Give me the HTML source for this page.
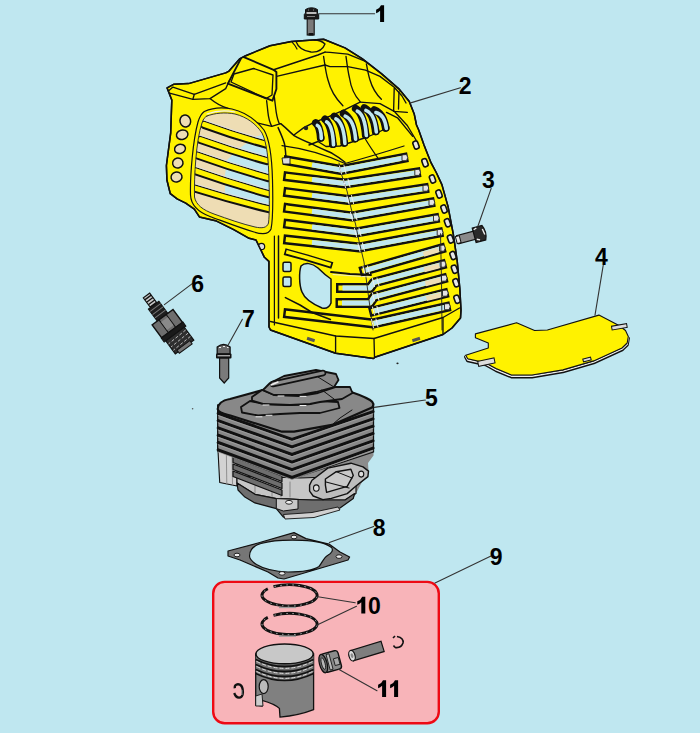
<!DOCTYPE html>
<html><head><meta charset="utf-8"><style>
html,body{margin:0;padding:0;background:#BFE7F0;overflow:hidden;width:700px;height:733px;}
svg{display:block;}
text{font-family:"Liberation Sans",sans-serif;font-weight:bold;font-size:23px;fill:#000;}
</style></head><body>
<svg width="700" height="733" viewBox="0 0 700 733">
<rect width="700" height="733" fill="#BFE7F0"/>
<path d="M167.1,87.9 L173.6,84.3 L188.6,83.6 L225.7,72.9 L228.6,71.4 L240.0,58.6 L245.7,55.7 L270.0,45.7 L291.4,41.4 L323.6,39.3 L345.0,47.9 L362.1,58.6 L381.4,73.6 L398.6,88.6 L409.3,101.4 L414.3,114.3 L416.5,125.0 L418.7,130.0 L424.0,145.0 L431.0,162.7 L436.5,173.0 L441.9,184.6 L448.0,206.4 L453.2,233.7 L457.2,261.0 L459.8,288.3 L461.0,310.0 L460.5,318.0 L452.0,328.0 L443.0,334.5 L375.5,357.0 L373.5,358.5 L335.6,353.3 L270.5,330.0 L269.0,327.0 L268.9,261.4 L264.4,257.3 L256.0,240.0 L249.1,238.3 L233.7,229.7 L216.6,221.1 L199.4,216.9 L194.3,209.1 L185.7,203.1 L177.1,198.9 L170.3,193.7 L166.9,180.0 L166.4,165.5 L170.7,132.8 L171.8,100.0 Z" fill="#FFF200" stroke="#111" stroke-width="1.5" stroke-linejoin="round"/>
<clipPath id="cc"><path d="M167.1,87.9 L173.6,84.3 L188.6,83.6 L225.7,72.9 L228.6,71.4 L240.0,58.6 L245.7,55.7 L270.0,45.7 L291.4,41.4 L323.6,39.3 L345.0,47.9 L362.1,58.6 L381.4,73.6 L398.6,88.6 L409.3,101.4 L414.3,114.3 L416.5,125.0 L418.7,130.0 L424.0,145.0 L431.0,162.7 L436.5,173.0 L441.9,184.6 L448.0,206.4 L453.2,233.7 L457.2,261.0 L459.8,288.3 L461.0,310.0 L460.5,318.0 L452.0,328.0 L443.0,334.5 L375.5,357.0 L373.5,358.5 L335.6,353.3 L270.5,330.0 L269.0,327.0 L268.9,261.4 L264.4,257.3 L256.0,240.0 L249.1,238.3 L233.7,229.7 L216.6,221.1 L199.4,216.9 L194.3,209.1 L185.7,203.1 L177.1,198.9 L170.3,193.7 L166.9,180.0 L166.4,165.5 L170.7,132.8 L171.8,100.0 Z"/></clipPath>
<g clip-path="url(#cc)">
<path d="M167.9,91.4 L172.9,87.1 L194.3,94.3 L225.7,82.9" fill="none" stroke="#111" stroke-width="1.35" stroke-linejoin="round" stroke-linecap="round" />
<path d="M168.6,92.9 L192.9,99.3 L210.0,98.6 L225.7,88.6 L229.3,80.7" fill="none" stroke="#111" stroke-width="1.35" stroke-linejoin="round" stroke-linecap="round" />
<path d="M192.9,99.3 L194.3,94.3" fill="none" stroke="#111" stroke-width="1.35" stroke-linejoin="round" stroke-linecap="round" />
<path d="M210,98.6 C214,102 220,106 228,108.5" fill="none" stroke="#111" stroke-width="1.35" stroke-linejoin="round" stroke-linecap="round" />
<path d="M242.1,56.4 L273.6,69.8 L276.4,72.0 L276.4,89.0 L272.4,100.7 L227.9,83.6 L242.1,56.4" fill="none" stroke="#111" stroke-width="1.89" stroke-linejoin="round" stroke-linecap="round" />
<path d="M273.6,69.8 L317.9,55.0 L325.0,52.1" fill="none" stroke="#111" stroke-width="1.49" stroke-linejoin="round" stroke-linecap="round" />
<path d="M253.6,68.5 L273.0,75.0 L272.0,95.0 L266.0,98.6 L231.0,82.0 L234.0,74.0 L253.6,68.5" fill="none" stroke="#111" stroke-width="1.35" stroke-linejoin="round" stroke-linecap="round" />
<path d="M276.6,76.4 L325.0,65.0" fill="none" stroke="#111" stroke-width="1.35" stroke-linejoin="round" stroke-linecap="round" />
<path d="M296,41.5 C298,47 303,51 311,52 C318,52.5 323,49 325,44 C322,41 318,40 314,40" fill="none" stroke="#111" stroke-width="1.35" stroke-linejoin="round" stroke-linecap="round" />
<path d="M292.1,42.1 C295,45 296,47 297,49" fill="none" stroke="#111" stroke-width="1.22" stroke-linejoin="round" stroke-linecap="round" />
<path d="M325.0,52.1 L330.0,52.4 L347.7,54.2 L365.5,61.3 L380.0,69.8 L393.0,79.6 L405.0,92.7 L411.6,103.6" fill="none" stroke="#111" stroke-width="1.35" stroke-linejoin="round" stroke-linecap="round" />
<path d="M325.0,65.0 L330.0,66.6 L347.7,66.6 L365.5,70.1 L380.0,76.4 L394.2,87.3 L402.0,96.0 L406.0,103.0" fill="none" stroke="#111" stroke-width="1.35" stroke-linejoin="round" stroke-linecap="round" />
<path d="M323.6,56.4 C325,66 326,74 328,80 C330,88 335,98 342.9,105.7" fill="none" stroke="#111" stroke-width="1.35" stroke-linejoin="round" stroke-linecap="round" />
<path d="M346,56.4 C347,64 348,72 349.5,78 C351,88 354,95 360,101.4" fill="none" stroke="#111" stroke-width="1.35" stroke-linejoin="round" stroke-linecap="round" />
<path d="M366.4,63.9 C367.5,70 368.5,76 370,80 C372,87 376,94 381.4,99.3" fill="none" stroke="#111" stroke-width="1.35" stroke-linejoin="round" stroke-linecap="round" />
<path d="M394.2,88.4 C394,96 393.8,104 393.6,111.3" fill="none" stroke="#111" stroke-width="1.35" stroke-linejoin="round" stroke-linecap="round" />
<path d="M399,91.6 C398.8,97 398.6,104 398.5,109" fill="none" stroke="#111" stroke-width="1.35" stroke-linejoin="round" stroke-linecap="round" />
<path d="M360.1,102.1 L380.0,103.6 L394.2,111.3 L407.3,112.4" fill="none" stroke="#111" stroke-width="1.35" stroke-linejoin="round" stroke-linecap="round" />
<path d="M266.6,100.6 C267,104 267.5,108 267.9,112.1 C268.5,118 270,123 271.7,126.3" fill="none" stroke="#111" stroke-width="1.35" stroke-linejoin="round" stroke-linecap="round" />
<path d="M274.3,96.7 C275,102 275.5,107 276.2,112.1 C277,117 278,121 279.4,123.7" fill="none" stroke="#111" stroke-width="1.35" stroke-linejoin="round" stroke-linecap="round" />
<path d="M255.0,122.4 L271.7,126.3 L280.7,123.7" fill="none" stroke="#111" stroke-width="1.35" stroke-linejoin="round" stroke-linecap="round" />
<path d="M280.7,123.7 C286,128 290,132 293.6,135.3 C300,139 306,141.5 312.8,144.3 C320,148 326,150.5 332.1,153.3 C337,156 341,159 345,162.3" fill="none" stroke="#111" stroke-width="1.49" stroke-linejoin="round" stroke-linecap="round" />
<path d="M278.1,127.6 C281,134 283.5,140 284.6,144.3 C285.5,150 285.8,154 286,158" fill="none" stroke="#111" stroke-width="1.49" stroke-linejoin="round" stroke-linecap="round" />
<path d="M293.6,135.3 L303.8,127.6 L314.1,122.4 L327.0,117.3 L345.0,109.6 L360.1,102.1" fill="none" stroke="#111" stroke-width="1.35" stroke-linejoin="round" stroke-linecap="round" />
<path d="M309.0,145.0 L318.0,141.5 L326.0,146.5 L340.0,146.0 L352.0,142.0 L366.0,137.5 L378.0,132.5 L388.5,127.0" fill="none" stroke="#111" stroke-width="1.35" stroke-linejoin="round" stroke-linecap="round" />
<path d="M386.5,112.4 L397.5,117.8 L412.7,136.4" fill="none" stroke="#111" stroke-width="1.35" stroke-linejoin="round" stroke-linecap="round" />
<path d="M394.2,111.3 L407.3,125.5 L416.0,140.0" fill="none" stroke="#111" stroke-width="1.35" stroke-linejoin="round" stroke-linecap="round" />
<path d="M365.5,139.3 C370,147 375,154 379.6,160.6" fill="none" stroke="#111" stroke-width="1.22" stroke-linejoin="round" stroke-linecap="round" />
<path d="M282,145.6 C300,148 320,152 345,163.5" fill="none" stroke="#111" stroke-width="1.22" stroke-linejoin="round" stroke-linecap="round" />
<path d="M345,163.5 C365,158 385,152 404,146" fill="none" stroke="#111" stroke-width="1.22" stroke-linejoin="round" stroke-linecap="round" />
<path d="M315.7,122.9 Q319.7,125.9 320.7,137.9" fill="none" stroke="#111" stroke-width="7.60" stroke-linejoin="round" stroke-linecap="round" stroke-linecap="butt"/>
<circle cx="320.7" cy="137.9" r="3.8" fill="#111"/>
<path d="M317.3,125.4 Q321.0,126.9 321.3,138.4" fill="none" stroke="#BFE7F0" stroke-width="3.60" stroke-linejoin="round" stroke-linecap="round" stroke-linecap="butt"/>
<path d="M325.0,119.3 Q331.3,124.3 332.9,144.3" fill="none" stroke="#111" stroke-width="7.60" stroke-linejoin="round" stroke-linecap="round" stroke-linecap="butt"/>
<circle cx="332.9" cy="144.3" r="3.8" fill="#111"/>
<path d="M326.6,121.8 Q332.6,125.3 333.5,144.8" fill="none" stroke="#BFE7F0" stroke-width="3.60" stroke-linejoin="round" stroke-linecap="round" stroke-linecap="butt"/>
<path d="M334.3,116.4 Q342.3,121.7 344.3,142.9" fill="none" stroke="#111" stroke-width="7.60" stroke-linejoin="round" stroke-linecap="round" stroke-linecap="butt"/>
<circle cx="344.3" cy="142.9" r="3.8" fill="#111"/>
<path d="M335.9,118.9 Q343.6,122.7 344.9,143.4" fill="none" stroke="#BFE7F0" stroke-width="3.60" stroke-linejoin="round" stroke-linecap="round" stroke-linecap="butt"/>
<path d="M343.6,113.6 Q352.7,118.6 355.0,138.6" fill="none" stroke="#111" stroke-width="7.60" stroke-linejoin="round" stroke-linecap="round" stroke-linecap="butt"/>
<circle cx="355.0" cy="138.6" r="3.8" fill="#111"/>
<path d="M345.2,116.1 Q354.0,119.6 355.6,139.1" fill="none" stroke="#BFE7F0" stroke-width="3.60" stroke-linejoin="round" stroke-linecap="round" stroke-linecap="butt"/>
<path d="M355.7,108.6 Q363.7,113.9 365.7,135.0" fill="none" stroke="#111" stroke-width="7.60" stroke-linejoin="round" stroke-linecap="round" stroke-linecap="butt"/>
<circle cx="365.7" cy="135.0" r="3.8" fill="#111"/>
<path d="M357.3,111.1 Q365.0,114.9 366.3,135.5" fill="none" stroke="#BFE7F0" stroke-width="3.60" stroke-linejoin="round" stroke-linecap="round" stroke-linecap="butt"/>
<path d="M364.3,107.9 Q373.4,112.6 375.7,131.4" fill="none" stroke="#111" stroke-width="7.60" stroke-linejoin="round" stroke-linecap="round" stroke-linecap="butt"/>
<circle cx="375.7" cy="131.4" r="3.8" fill="#111"/>
<path d="M365.9,110.4 Q374.7,113.6 376.3,131.9" fill="none" stroke="#BFE7F0" stroke-width="3.60" stroke-linejoin="round" stroke-linecap="round" stroke-linecap="butt"/>
<path d="M374.3,110.0 Q383.4,113.6 385.7,127.9" fill="none" stroke="#111" stroke-width="7.60" stroke-linejoin="round" stroke-linecap="round" stroke-linecap="butt"/>
<circle cx="385.7" cy="127.9" r="3.8" fill="#111"/>
<path d="M375.9,112.5 Q384.7,114.6 386.3,128.4" fill="none" stroke="#BFE7F0" stroke-width="3.60" stroke-linejoin="round" stroke-linecap="round" stroke-linecap="butt"/>
<circle cx="306" cy="128" r="2.2" fill="#222"/>
<path d="M204.3,111.5 C212,108 222,107 232,109 C245,112 256,120 264,130 C270,140 272,160 272.5,180 C273,200 273,220 271,229 C269,234 262,234.5 254,232 C240,228 225,222 210,216.5 C198,212 191,205 190.5,195 C190,175 193,140 198,122 C199.5,117 201.5,113.5 204.3,111.5 Z" fill="#FFF200" stroke="#111" stroke-width="1.20" stroke-linejoin="round" stroke-linecap="round" />
<clipPath id="lg"><path d="M207,116 C215,113 225,112 235,114 C247,117 256,124 262,133 C267,143 268.5,160 269,180 C269.5,200 269.5,215 268.5,223 C267,228 262,228.5 255,227 C242,224 228,219 214,214 C203,210 196,205 194.5,197 C194,178 196,140 202,123 C203,119 205,117 207,116 Z"/></clipPath>
<g clip-path="url(#lg)">
<path d="M207,116 C215,113 225,112 235,114 C247,117 256,124 262,133 C267,143 268.5,160 269,180 C269.5,200 269.5,215 268.5,223 C267,228 262,228.5 255,227 C242,224 228,219 214,214 C203,210 196,205 194.5,197 C194,178 196,140 202,123 C203,119 205,117 207,116 Z" fill="#EEDDB4"/>
<path d="M255,137 L268,133 L280,133 L280,214 L225,198 L225,175 L227,160 L240,148 Z" fill="#BFE7F0"/>
<path d="M204.0,124.8 Q235.0,136.2 266.0,144.5" fill="none" stroke="#111" stroke-width="8.20" stroke-linejoin="round" stroke-linecap="round" stroke-linecap="butt"/>
<path d="M204.0,124.4 Q235.0,135.8 266.0,144.1" fill="none" stroke="#FFF200" stroke-width="5.00" stroke-linejoin="round" stroke-linecap="round" stroke-linecap="butt"/>
<path d="M204.0,120.1 Q235.0,131.5 266.0,139.8" fill="none" stroke="#E0E0E0" stroke-width="0.90" stroke-linejoin="round" stroke-linecap="round" stroke-linecap="butt"/>
<path d="M200.5,140.0 Q233.8,152.0 267.0,161.0" fill="none" stroke="#111" stroke-width="8.20" stroke-linejoin="round" stroke-linecap="round" stroke-linecap="butt"/>
<path d="M200.5,139.6 Q233.8,151.6 267.0,160.6" fill="none" stroke="#FFF200" stroke-width="5.00" stroke-linejoin="round" stroke-linecap="round" stroke-linecap="butt"/>
<path d="M200.5,135.3 Q233.8,147.3 267.0,156.3" fill="none" stroke="#E0E0E0" stroke-width="0.90" stroke-linejoin="round" stroke-linecap="round" stroke-linecap="butt"/>
<path d="M197.5,155.5 Q232.8,168.2 268.0,178.0" fill="none" stroke="#111" stroke-width="8.20" stroke-linejoin="round" stroke-linecap="round" stroke-linecap="butt"/>
<path d="M197.5,155.1 Q232.8,167.8 268.0,177.6" fill="none" stroke="#FFF200" stroke-width="5.00" stroke-linejoin="round" stroke-linecap="round" stroke-linecap="butt"/>
<path d="M197.5,150.8 Q232.8,163.6 268.0,173.3" fill="none" stroke="#E0E0E0" stroke-width="0.90" stroke-linejoin="round" stroke-linecap="round" stroke-linecap="butt"/>
<path d="M195.0,171.0 Q231.8,184.0 268.5,194.0" fill="none" stroke="#111" stroke-width="8.20" stroke-linejoin="round" stroke-linecap="round" stroke-linecap="butt"/>
<path d="M195.0,170.6 Q231.8,183.6 268.5,193.6" fill="none" stroke="#FFF200" stroke-width="5.00" stroke-linejoin="round" stroke-linecap="round" stroke-linecap="butt"/>
<path d="M195.0,166.3 Q231.8,179.3 268.5,189.3" fill="none" stroke="#E0E0E0" stroke-width="0.90" stroke-linejoin="round" stroke-linecap="round" stroke-linecap="butt"/>
<path d="M193.0,188.0 Q230.8,200.0 268.5,209.0" fill="none" stroke="#111" stroke-width="8.20" stroke-linejoin="round" stroke-linecap="round" stroke-linecap="butt"/>
<path d="M193.0,187.6 Q230.8,199.6 268.5,208.6" fill="none" stroke="#FFF200" stroke-width="5.00" stroke-linejoin="round" stroke-linecap="round" stroke-linecap="butt"/>
<path d="M193.0,183.3 Q230.8,195.3 268.5,204.3" fill="none" stroke="#E0E0E0" stroke-width="0.90" stroke-linejoin="round" stroke-linecap="round" stroke-linecap="butt"/>
</g>
<path d="M207,116 C215,113 225,112 235,114 C247,117 256,124 262,133 C267,143 268.5,160 269,180 C269.5,200 269.5,215 268.5,223 C267,228 262,228.5 255,227 C242,224 228,219 214,214 C203,210 196,205 194.5,197 C194,178 196,140 202,123 C203,119 205,117 207,116 Z" fill="none" stroke="#333" stroke-width="1.00" stroke-linejoin="round" stroke-linecap="round" />
<path d="M207,114 C215,111 225,110 235,112" fill="none" stroke="#EEE" stroke-width="1.20" stroke-linejoin="round" stroke-linecap="round" />
<ellipse cx="185.3" cy="121.0" rx="5.3" ry="6.0" fill="#EEDDB4" stroke="#111" stroke-width="1.5" transform="rotate(-15 185.3 121.0)"/>
<ellipse cx="182.2" cy="134.7" rx="5.8" ry="4.7" fill="#EEDDB4" stroke="#111" stroke-width="1.5" transform="rotate(-15 182.2 134.7)"/>
<ellipse cx="180.0" cy="148.9" rx="5.5" ry="4.6" fill="#EEDDB4" stroke="#111" stroke-width="1.5" transform="rotate(-15 180.0 148.9)"/>
<ellipse cx="177.8" cy="163.0" rx="5.2" ry="5.0" fill="#EEDDB4" stroke="#111" stroke-width="1.5" transform="rotate(-15 177.8 163.0)"/>
<ellipse cx="176.5" cy="177.0" rx="5.5" ry="5.0" fill="#EEDDB4" stroke="#111" stroke-width="1.5" transform="rotate(-15 176.5 177.0)"/>
<circle cx="261.5" cy="246.5" r="3.2" fill="#DDD" stroke="#111" stroke-width="1.2"/>
<path d="M288.3,160.8 L341.0,170.0 L403.1,158.1" fill="none" stroke="#111" stroke-width="10.0" stroke-linejoin="round" stroke-linecap="square"/>
<path d="M288.3,160.8 L341.0,170.0 L403.1,158.1" fill="none" stroke="#FFF200" stroke-width="5.1" stroke-linejoin="round" stroke-linecap="square"/>
<path d="M312.0,164.9 L341.0,170.0 L403.0,158.1" fill="none" stroke="#BFE7F0" stroke-width="4.9" stroke-linejoin="round" stroke-linecap="butt"/>
<path d="M402.0,154.9 L406.5,154.5 Q409.0,157.5 406.5,160.7 L402.0,160.7 Z" fill="#E4E4E4" stroke="#222" stroke-width="0.9"/>
<path d="M288.3,176.6 L345.0,183.5 L415.8,172.7" fill="none" stroke="#111" stroke-width="10.0" stroke-linejoin="round" stroke-linecap="square"/>
<path d="M288.3,176.6 L345.0,183.5 L415.8,172.7" fill="none" stroke="#FFF200" stroke-width="5.1" stroke-linejoin="round" stroke-linecap="square"/>
<path d="M312.0,179.5 L345.0,183.5 L415.8,172.8" fill="none" stroke="#BFE7F0" stroke-width="4.9" stroke-linejoin="round" stroke-linecap="butt"/>
<path d="M414.8,169.7 L419.2,169.2 Q421.8,172.2 419.2,175.4 L414.8,175.4 Z" fill="#E4E4E4" stroke="#222" stroke-width="0.9"/>
<path d="M288.3,192.4 L348.5,200.0 L424.0,188.5" fill="none" stroke="#111" stroke-width="10.0" stroke-linejoin="round" stroke-linecap="square"/>
<path d="M288.3,192.4 L348.5,200.0 L424.0,188.5" fill="none" stroke="#FFF200" stroke-width="5.1" stroke-linejoin="round" stroke-linecap="square"/>
<path d="M312.0,195.4 L348.5,200.0 L424.0,188.6" fill="none" stroke="#BFE7F0" stroke-width="4.9" stroke-linejoin="round" stroke-linecap="butt"/>
<path d="M423.0,185.4 L427.5,185.0 Q430.0,188.0 427.5,191.2 L423.0,191.2 Z" fill="#E4E4E4" stroke="#222" stroke-width="0.9"/>
<path d="M288.3,208.2 L352.0,216.5 L430.0,202.8" fill="none" stroke="#111" stroke-width="10.0" stroke-linejoin="round" stroke-linecap="square"/>
<path d="M288.3,208.2 L352.0,216.5 L430.0,202.8" fill="none" stroke="#FFF200" stroke-width="5.1" stroke-linejoin="round" stroke-linecap="square"/>
<path d="M312.0,211.3 L352.0,216.5 L430.0,202.8" fill="none" stroke="#BFE7F0" stroke-width="4.9" stroke-linejoin="round" stroke-linecap="butt"/>
<path d="M429.0,199.7 L433.5,199.2 Q436.0,202.2 433.5,205.4 L429.0,205.4 Z" fill="#E4E4E4" stroke="#222" stroke-width="0.9"/>
<path d="M288.3,224.0 L356.0,232.5 L434.5,218.5" fill="none" stroke="#111" stroke-width="10.0" stroke-linejoin="round" stroke-linecap="square"/>
<path d="M288.3,224.0 L356.0,232.5 L434.5,218.5" fill="none" stroke="#FFF200" stroke-width="5.1" stroke-linejoin="round" stroke-linecap="square"/>
<path d="M312.0,227.0 L356.0,232.5 L434.5,218.6" fill="none" stroke="#BFE7F0" stroke-width="4.9" stroke-linejoin="round" stroke-linecap="butt"/>
<path d="M433.5,215.4 L438.0,215.0 Q440.5,218.0 438.0,221.2 L433.5,221.2 Z" fill="#E4E4E4" stroke="#222" stroke-width="0.9"/>
<path d="M288.3,239.8 L359.5,247.5 L438.3,232.8" fill="none" stroke="#111" stroke-width="10.0" stroke-linejoin="round" stroke-linecap="square"/>
<path d="M288.3,239.8 L359.5,247.5 L438.3,232.8" fill="none" stroke="#FFF200" stroke-width="5.1" stroke-linejoin="round" stroke-linecap="square"/>
<path d="M312.0,242.4 L359.5,247.5 L438.2,232.8" fill="none" stroke="#BFE7F0" stroke-width="4.9" stroke-linejoin="round" stroke-linecap="butt"/>
<path d="M437.2,229.7 L441.8,229.2 Q444.2,232.2 441.8,235.4 L437.2,235.4 Z" fill="#E4E4E4" stroke="#222" stroke-width="0.9"/>
<path d="M364.5,270.5 L440.6,248.8" fill="none" stroke="#111" stroke-width="10.0" stroke-linejoin="round" stroke-linecap="square"/>
<path d="M364.5,270.5 L440.6,248.8" fill="none" stroke="#FFF200" stroke-width="5.1" stroke-linejoin="round" stroke-linecap="square"/>
<path d="M365.0,270.5 L440.5,248.6" fill="none" stroke="#BFE7F0" stroke-width="4.9" stroke-linejoin="round" stroke-linecap="butt"/>
<path d="M439.5,245.4 L444.0,245.0 Q446.5,248.0 444.0,251.2 L439.5,251.2 Z" fill="#E4E4E4" stroke="#222" stroke-width="0.9"/>
<path d="M341.0,288.0 L370.0,288.0 L374.0,282.5 L441.3,264.8" fill="none" stroke="#111" stroke-width="10.0" stroke-linejoin="round" stroke-linecap="square"/>
<path d="M341.0,288.0 L370.0,288.0 L374.0,282.5 L441.3,264.8" fill="none" stroke="#FFF200" stroke-width="5.1" stroke-linejoin="round" stroke-linecap="square"/>
<path d="M342.5,288.0 L370.0,288.0 L374.0,282.5 L441.2,264.6" fill="none" stroke="#BFE7F0" stroke-width="4.9" stroke-linejoin="round" stroke-linecap="butt"/>
<path d="M440.2,261.4 L444.7,261.0 Q447.2,264.0 444.7,267.2 L440.2,267.2 Z" fill="#E4E4E4" stroke="#222" stroke-width="0.9"/>
<path d="M340.5,303.0 L370.0,303.0 L374.0,297.0 L442.5,278.8" fill="none" stroke="#111" stroke-width="10.0" stroke-linejoin="round" stroke-linecap="square"/>
<path d="M340.5,303.0 L370.0,303.0 L374.0,297.0 L442.5,278.8" fill="none" stroke="#FFF200" stroke-width="5.1" stroke-linejoin="round" stroke-linecap="square"/>
<path d="M342.0,303.0 L370.0,303.0 L374.0,297.0 L442.4,278.6" fill="none" stroke="#BFE7F0" stroke-width="4.9" stroke-linejoin="round" stroke-linecap="butt"/>
<path d="M441.4,275.4 L445.9,275.0 Q448.4,278.0 445.9,281.2 L441.4,281.2 Z" fill="#E4E4E4" stroke="#222" stroke-width="0.9"/>
<path d="M374.0,311.0 L443.6,293.7" fill="none" stroke="#111" stroke-width="10.0" stroke-linejoin="round" stroke-linecap="square"/>
<path d="M374.0,311.0 L443.6,293.7" fill="none" stroke="#FFF200" stroke-width="5.1" stroke-linejoin="round" stroke-linecap="square"/>
<path d="M374.5,311.0 L443.5,293.6" fill="none" stroke="#BFE7F0" stroke-width="4.9" stroke-linejoin="round" stroke-linecap="butt"/>
<path d="M442.5,290.4 L447.0,290.0 Q449.5,293.0 447.0,296.2 L442.5,296.2 Z" fill="#E4E4E4" stroke="#222" stroke-width="0.9"/>
<path d="M288.3,313.5 L373.0,323.5 L445.6,307.2" fill="none" stroke="#111" stroke-width="10.0" stroke-linejoin="round" stroke-linecap="square"/>
<path d="M288.3,313.5 L373.0,323.5 L445.6,307.2" fill="none" stroke="#FFF200" stroke-width="5.1" stroke-linejoin="round" stroke-linecap="square"/>
<path d="M373.5,323.5 L445.5,307.1" fill="none" stroke="#BFE7F0" stroke-width="4.9" stroke-linejoin="round" stroke-linecap="butt"/>
<path d="M444.5,303.9 L449.0,303.5 Q451.5,306.5 449.0,309.7 L444.5,309.7 Z" fill="#E4E4E4" stroke="#222" stroke-width="0.9"/>
<path d="M423.5,254.3 L438.5,250.0" stroke="#EEDDB4" stroke-width="4.9"/>
<path d="M424.2,269.9 L439.2,265.9" stroke="#EEDDB4" stroke-width="4.9"/>
<path d="M425.4,283.9 L440.4,279.9" stroke="#EEDDB4" stroke-width="4.9"/>
<path d="M426.5,298.6 L441.5,294.8" stroke="#EEDDB4" stroke-width="4.9"/>
<path d="M339.0,163.0 L341.0,173.0 L347.0,191.0 L351.0,208.0 L355.5,224.0 L359.0,241.0 L364.0,262.0 L367.0,285.0 L369.0,300.0 L373.0,330.0" fill="none" stroke="#222" stroke-width="0.90" stroke-linejoin="round" stroke-linecap="round" />
<path d="M339.5,166.0 L341.5,174.0" fill="none" stroke="#EEE" stroke-width="1.00" stroke-linejoin="round" stroke-linecap="round" />
<path d="M344.0,165.5 L346.0,173.5" fill="none" stroke="#EEE" stroke-width="1.00" stroke-linejoin="round" stroke-linecap="round" />
<path d="M343.5,179.5 L345.5,187.5" fill="none" stroke="#EEE" stroke-width="1.00" stroke-linejoin="round" stroke-linecap="round" />
<path d="M348.0,179.0 L350.0,187.0" fill="none" stroke="#EEE" stroke-width="1.00" stroke-linejoin="round" stroke-linecap="round" />
<path d="M347.0,196.0 L349.0,204.0" fill="none" stroke="#EEE" stroke-width="1.00" stroke-linejoin="round" stroke-linecap="round" />
<path d="M351.5,195.5 L353.5,203.5" fill="none" stroke="#EEE" stroke-width="1.00" stroke-linejoin="round" stroke-linecap="round" />
<path d="M350.5,212.5 L352.5,220.5" fill="none" stroke="#EEE" stroke-width="1.00" stroke-linejoin="round" stroke-linecap="round" />
<path d="M355.0,212.0 L357.0,220.0" fill="none" stroke="#EEE" stroke-width="1.00" stroke-linejoin="round" stroke-linecap="round" />
<path d="M354.5,228.5 L356.5,236.5" fill="none" stroke="#EEE" stroke-width="1.00" stroke-linejoin="round" stroke-linecap="round" />
<path d="M359.0,228.0 L361.0,236.0" fill="none" stroke="#EEE" stroke-width="1.00" stroke-linejoin="round" stroke-linecap="round" />
<path d="M358.0,243.5 L360.0,251.5" fill="none" stroke="#EEE" stroke-width="1.00" stroke-linejoin="round" stroke-linecap="round" />
<path d="M362.5,243.0 L364.5,251.0" fill="none" stroke="#EEE" stroke-width="1.00" stroke-linejoin="round" stroke-linecap="round" />
<path d="M363.0,266.5 L365.0,274.5" fill="none" stroke="#EEE" stroke-width="1.00" stroke-linejoin="round" stroke-linecap="round" />
<path d="M367.5,266.0 L369.5,274.0" fill="none" stroke="#EEE" stroke-width="1.00" stroke-linejoin="round" stroke-linecap="round" />
<path d="M372.5,278.5 L374.5,286.5" fill="none" stroke="#EEE" stroke-width="1.00" stroke-linejoin="round" stroke-linecap="round" />
<path d="M377.0,278.0 L379.0,286.0" fill="none" stroke="#EEE" stroke-width="1.00" stroke-linejoin="round" stroke-linecap="round" />
<path d="M372.5,293.0 L374.5,301.0" fill="none" stroke="#EEE" stroke-width="1.00" stroke-linejoin="round" stroke-linecap="round" />
<path d="M377.0,292.5 L379.0,300.5" fill="none" stroke="#EEE" stroke-width="1.00" stroke-linejoin="round" stroke-linecap="round" />
<path d="M372.5,307.0 L374.5,315.0" fill="none" stroke="#EEE" stroke-width="1.00" stroke-linejoin="round" stroke-linecap="round" />
<path d="M377.0,306.5 L379.0,314.5" fill="none" stroke="#EEE" stroke-width="1.00" stroke-linejoin="round" stroke-linecap="round" />
<path d="M371.5,319.5 L373.5,327.5" fill="none" stroke="#EEE" stroke-width="1.00" stroke-linejoin="round" stroke-linecap="round" />
<path d="M376.0,319.0 L378.0,327.0" fill="none" stroke="#EEE" stroke-width="1.00" stroke-linejoin="round" stroke-linecap="round" />
<path d="M440.5,233.7 L441.5,280.0 L442.0,330.0" fill="none" stroke="#222" stroke-width="0.90" stroke-linejoin="round" stroke-linecap="round" />
<path d="M282,158 L290,157.5 L290,164 L283,164 Z" fill="#DDD" stroke="#111" stroke-width="0.9"/>
<path d="M331.0,272.0 L350.0,274.0 L371.0,275.0" fill="none" stroke="#111" stroke-width="1.89" stroke-linejoin="round" stroke-linecap="round" />
<path d="M333.0,274.5 L370.0,277.0" fill="none" stroke="#EEE" stroke-width="0.80" stroke-linejoin="round" stroke-linecap="round" />
<path d="M278.5,236.0 L278.5,318.0" fill="none" stroke="#111" stroke-width="1.49" stroke-linejoin="round" stroke-linecap="round" />
<path d="M274.4,236.0 L274.4,325.0" fill="none" stroke="#111" stroke-width="1.22" stroke-linejoin="round" stroke-linecap="round" />
<rect x="283" y="262.2" width="8" height="9.400000000000034" rx="1.5" fill="#BFE7F0" stroke="#111" stroke-width="1.5"/>
<rect x="283" y="277.1" width="8" height="9.5" rx="1.5" fill="#BFE7F0" stroke="#111" stroke-width="1.5"/>
<path d="M301,266 C305,262 312,263 318,268 C322,272 328,277 331,279 L331,303 C329,308 326,309 322,308 C315,305 305,300 302,292 C299,285 299,272 301,266 Z" fill="#BFE7F0" stroke="#111" stroke-width="1.50" stroke-linejoin="round" stroke-linecap="round" />
<path d="M288,252.5 L306,257.5 L329,264.5" fill="none" stroke="#111" stroke-width="7" stroke-linecap="square" stroke-linejoin="round"/>
<path d="M288,252.3 L306,257.3 L329,264.3" fill="none" stroke="#FFF200" stroke-width="3.6" stroke-linecap="square" stroke-linejoin="round"/>
<path d="M285.4,297.6 L300.0,305.0 L312.1,312.5 L330.4,319.5" fill="none" stroke="#111" stroke-width="1.60" stroke-linejoin="round" stroke-linecap="round" />
<path d="M270.5,321.5 L335.6,336.0 L374.0,338.5 L443.0,317.5 L459.5,308.0" fill="none" stroke="#111" stroke-width="1.35" stroke-linejoin="round" stroke-linecap="round" />
<path d="M335.6,336.0 L335.6,353.3" fill="none" stroke="#111" stroke-width="1.35" stroke-linejoin="round" stroke-linecap="round" />
<path d="M374.0,338.5 L374.5,357.5" fill="none" stroke="#111" stroke-width="1.35" stroke-linejoin="round" stroke-linecap="round" />
<path d="M443.0,317.5 L443.0,334.5" fill="none" stroke="#111" stroke-width="1.35" stroke-linejoin="round" stroke-linecap="round" />
<rect x="307" y="338" width="8" height="3" fill="#555" transform="rotate(18 311 339)"/>
<rect x="412" y="338" width="8" height="3" fill="#555" transform="rotate(-18 416 339)"/>
<rect x="413.5" y="141.0" width="5" height="8" rx="2" fill="#E8E8E8" stroke="#111" stroke-width="1.6" transform="rotate(-20 416.0 145.0)"/>
<rect x="422.5" y="158.7" width="5" height="8" rx="2" fill="#E8E8E8" stroke="#111" stroke-width="1.6" transform="rotate(-20 425.0 162.7)"/>
<rect x="430.0" y="175.0" width="5" height="8" rx="2" fill="#E8E8E8" stroke="#111" stroke-width="1.6" transform="rotate(-20 432.5 179.0)"/>
<rect x="436.5" y="190.0" width="5" height="8" rx="2" fill="#E8E8E8" stroke="#111" stroke-width="1.6" transform="rotate(-20 439.0 194.0)"/>
<rect x="441.5" y="205.0" width="5" height="8" rx="2" fill="#E8E8E8" stroke="#111" stroke-width="1.6" transform="rotate(-20 444.0 209.0)"/>
<rect x="445.0" y="218.8" width="5" height="8" rx="2" fill="#E8E8E8" stroke="#111" stroke-width="1.6" transform="rotate(-20 447.5 222.8)"/>
<rect x="448.0" y="235.0" width="5" height="8" rx="2" fill="#E8E8E8" stroke="#111" stroke-width="1.6" transform="rotate(-20 450.5 239.0)"/>
<rect x="450.5" y="251.5" width="5" height="8" rx="2" fill="#E8E8E8" stroke="#111" stroke-width="1.6" transform="rotate(-20 453.0 255.5)"/>
<rect x="452.0" y="265.2" width="5" height="8" rx="2" fill="#E8E8E8" stroke="#111" stroke-width="1.6" transform="rotate(-20 454.5 269.2)"/>
<rect x="453.5" y="278.8" width="5" height="8" rx="2" fill="#E8E8E8" stroke="#111" stroke-width="1.6" transform="rotate(-20 456.0 282.8)"/>
<rect x="454.5" y="295.2" width="5" height="8" rx="2" fill="#E8E8E8" stroke="#111" stroke-width="1.6" transform="rotate(-20 457.0 299.2)"/>
</g>
<path d="M167.1,87.9 L173.6,84.3 L188.6,83.6 L225.7,72.9 L228.6,71.4 L240.0,58.6 L245.7,55.7 L270.0,45.7 L291.4,41.4 L323.6,39.3 L345.0,47.9 L362.1,58.6 L381.4,73.6 L398.6,88.6 L409.3,101.4 L414.3,114.3 L416.5,125.0 L418.7,130.0 L424.0,145.0 L431.0,162.7 L436.5,173.0 L441.9,184.6 L448.0,206.4 L453.2,233.7 L457.2,261.0 L459.8,288.3 L461.0,310.0 L460.5,318.0 L452.0,328.0 L443.0,334.5 L375.5,357.0 L373.5,358.5 L335.6,353.3 L270.5,330.0 L269.0,327.0 L268.9,261.4 L264.4,257.3 L256.0,240.0 L249.1,238.3 L233.7,229.7 L216.6,221.1 L199.4,216.9 L194.3,209.1 L185.7,203.1 L177.1,198.9 L170.3,193.7 L166.9,180.0 L166.4,165.5 L170.7,132.8 L171.8,100.0 Z" fill="none" stroke="#111" stroke-width="1.5" stroke-linejoin="round"/>
<path d="M465.7,357.0 L467.7,360.6 L485.7,364.7 L496.0,370.4 L511.4,376.8 L532.0,376.8 L562.9,371.7 L593.7,362.7 L622.0,349.8 L627.2,344.8 L628.3,338.3" fill="none" stroke="#111" stroke-width="3.20" stroke-linejoin="round" stroke-linecap="round" />
<path d="M465.7,356.4 L467.7,360.0 L485.7,364.1 L496.0,369.8 L511.4,376.2 L532.0,376.2 L562.9,371.1 L593.7,362.1 L622.0,349.2 L627.2,344.2 L628.3,337.7" fill="none" stroke="#EEE" stroke-width="1.40" stroke-linejoin="round" stroke-linecap="round" />
<path d="M475.4,333.9 L516.6,322.8 L534.6,330.5 L547.4,330.0 L598.9,315.1 L619.0,325.5 L625.5,330.5 L628.3,336.5 L627.2,343.0 L622.0,348.0 L593.7,360.9 L562.9,369.9 L532.0,375.0 L511.4,375.0 L496.0,368.6 L485.7,362.9 L467.7,358.8 L465.7,355.2 L488.3,348.0 L488.3,342.9 L475.4,337.7 Z" fill="#FFF200" stroke="#111" stroke-width="1.1" stroke-linejoin="round"/>
<rect x="611.7" y="324.9" width="15.3" height="3.8" fill="#DDD" stroke="#111" stroke-width="1" transform="rotate(-10 619.4 326.8)"/>
<rect x="478.0" y="359.6" width="16.7" height="5.1" fill="#DDD" stroke="#111" stroke-width="1" transform="rotate(-12 486.4 362.1)"/>
<rect x="583.0" y="358.0" width="8.0" height="3.0" fill="#DDD" stroke="#111" stroke-width="1" transform="rotate(-15 587.0 359.5)"/>
<rect x="307.2" y="18" width="7" height="17" fill="#7A7A7A" stroke="#111" stroke-width="1.1"/>
<rect x="308.5" y="33" width="5" height="2.6" fill="#111"/>
<path d="M304.3,19 L304.3,14.5 L305.5,13 L305.5,9.5 Q311.5,6 317.5,9.5 L317.5,13 L318.7,14.5 L318.7,19 Z" fill="#1A1A1A" stroke="#111" stroke-width="1"/>
<path d="M306.5,13 L316.5,13" stroke="#F2F2F2" stroke-width="1.5"/>
<path d="M307,16.5 L315,16.5" stroke="#999" stroke-width="0.8"/>
<path d="M308,10 L309,10 M313,10 L314,10" stroke="#AAA" stroke-width="0.8"/>
<g transform="translate(479,234) rotate(-15)">
<rect x="-22" y="-4.2" width="18" height="8.4" fill="#8A8A8A" stroke="#111" stroke-width="1.3"/>
<rect x="-23.5" y="-3.6" width="4" height="7.2" fill="#E8E8E8" stroke="#111" stroke-width="1"/>
<path d="M-5,-7.5 L5,-7.5 Q8.5,0 5,7.5 L-5,7.5 Z" fill="#2A2A2A" stroke="#111" stroke-width="1.2"/>
<path d="M-4,-5.5 L-1,-6.5 M-3.5,4.5 L-0.5,6 M4.5,-4 L5.5,2" stroke="#F0F0F0" stroke-width="1.4"/>
</g>
<path d="M219.6,358 L228.7,358 L228.7,378 L224.2,383 L219.6,378 Z" fill="#7A7A7A" stroke="#111" stroke-width="1.2"/>
<path d="M217.2,354 L217.2,347 Q223.6,342 230.1,347 L230.1,354 Z" fill="#6A6A6A" stroke="#111" stroke-width="1.3"/>
<path d="M219,347.5 L221,347.5 M223,346.5 L225,346.5 M227,347.5 L228.5,347.5" stroke="#EEE" stroke-width="1.1"/>
<rect x="216" y="353.5" width="15.5" height="5" rx="1" fill="#111"/>
<line x1="217.5" y1="355.8" x2="230" y2="355.8" stroke="#E8E8E8" stroke-width="1"/>
<g transform="translate(146.5,295.5) rotate(53.5)">
<rect x="0" y="-4" width="13" height="8" fill="#C8C8C8" stroke="#111" stroke-width="1.1"/>
<line x1="2.5" y1="-4" x2="2.5" y2="4" stroke="#111" stroke-width="1.3"/>
<line x1="5.5" y1="-4" x2="5.5" y2="4" stroke="#111" stroke-width="1.3"/>
<line x1="8.5" y1="-4" x2="8.5" y2="4" stroke="#111" stroke-width="1.3"/>
<line x1="11.5" y1="-4" x2="11.5" y2="4" stroke="#111" stroke-width="1.3"/>
<rect x="12" y="-6.5" width="16" height="13" fill="#1E1E1E" stroke="#111" stroke-width="1.1"/>
<line x1="15" y1="-6.5" x2="15" y2="6.5" stroke="#777" stroke-width="1"/>
<line x1="19" y1="-6.5" x2="19" y2="6.5" stroke="#777" stroke-width="1"/>
<line x1="23" y1="-6.5" x2="23" y2="6.5" stroke="#777" stroke-width="1"/>
<rect x="27" y="-13" width="16" height="26" fill="#6E6E6E" stroke="#111" stroke-width="1.4"/>
<line x1="27" y1="-4.5" x2="43" y2="-4.5" stroke="#111" stroke-width="1.1"/><line x1="27" y1="4.5" x2="43" y2="4.5" stroke="#111" stroke-width="1.1"/>
<rect x="30" y="-4" width="10" height="8" fill="#8A8A8A"/>
<rect x="43" y="-13.5" width="5" height="27" fill="#1A1A1A" stroke="#111" stroke-width="1"/>
<rect x="48" y="-11.5" width="16" height="23" fill="#2E2E2E" stroke="#111" stroke-width="1.2"/>
<line x1="51" y1="-11" x2="52" y2="11" stroke="#BBB" stroke-width="0.9" stroke-dasharray="3 2"/>
<line x1="55" y1="-11" x2="56" y2="11" stroke="#BBB" stroke-width="0.9" stroke-dasharray="3 2"/>
<line x1="59" y1="-11" x2="60" y2="11" stroke="#BBB" stroke-width="0.9" stroke-dasharray="3 2"/>
<rect x="62" y="-8" width="4" height="16" fill="#777" stroke="#111" stroke-width="1"/>
</g>
<path d="M217.7,405.0 L217.7,447.0 L219.7,482.5 L237.0,486.0 L244.9,497.1 L254.9,502.9 L276.3,508.6 L283.4,517.1 L312.0,514.0 L340.0,508.0 L353.3,498.4 L356.0,493.6 L362.0,482.0 L368.5,471.0 L368.0,463.0 L373.5,455.5 L373.5,404.0 Z" fill="#8C8C8C" stroke="#111" stroke-width="0" stroke-linejoin="round"/>
<path d="M217.7,445.0 L237.0,452.0 L237.0,486.0 L219.7,482.5 Z" fill="#D2D2D2" stroke="#111" stroke-width="1.1" stroke-linejoin="round"/>
<path d="M226.3,449.0 L226.8,484.0" fill="none" stroke="#888" stroke-width="0.90" stroke-linejoin="round" stroke-linecap="round" />
<path d="M232.0,450.0 L232.5,485.0" fill="none" stroke="#888" stroke-width="0.90" stroke-linejoin="round" stroke-linecap="round" />
<path d="M237.0,476.0 L300.0,478.0 L356.0,476.0 L356.0,493.6 L345.0,500.0 L312.0,500.0 L276.3,498.6 L254.9,494.3 L237.0,483.0 Z" fill="#C6C6C6" stroke="#111" stroke-width="1.1" stroke-linejoin="round"/>
<path d="M255.0,482.0 L255.0,497.0" fill="none" stroke="#777" stroke-width="0.80" stroke-linejoin="round" stroke-linecap="round" />
<path d="M272.0,482.0 L272.0,497.0" fill="none" stroke="#777" stroke-width="0.80" stroke-linejoin="round" stroke-linecap="round" />
<path d="M281.0,482.0 L281.0,497.0" fill="none" stroke="#777" stroke-width="0.80" stroke-linejoin="round" stroke-linecap="round" />
<path d="M290.0,482.0 L290.0,497.0" fill="none" stroke="#777" stroke-width="0.80" stroke-linejoin="round" stroke-linecap="round" />
<path d="M237.0,483.0 L254.9,494.3 L276.3,498.6 L312.0,500.0 L345.0,500.0 L354.5,493.6 L353.3,498.4 L340.0,508.0 L312.0,514.0 L283.4,517.1 L276.3,508.6 L254.9,502.9 L244.9,497.1 L238.0,490.0 Z" fill="#6E6E6E" stroke="#111" stroke-width="1.2" stroke-linejoin="round"/>
<path d="M276.3,498.6 L298.0,499.5 L298.0,509.0 L283.4,511.0 L276.3,508.6 Z" fill="#C8C8C8" stroke="#111" stroke-width="1" stroke-linejoin="round"/>
<ellipse cx="289" cy="502.3" rx="3.4" ry="1.9" fill="#EEE" stroke="#111" stroke-width="0.9"/>
<path d="M283.4,514.5 L312.0,512.5 L338.0,507.0 L340.0,510.0 L314.0,517.5 L285.0,519.0 Z" fill="#D0D0D0" stroke="#111" stroke-width="0.9" stroke-linejoin="round"/>
<path d="M233.0,457.0 L282.0,476.0 L282.0,481.5 L233.0,462.5 Z" fill="#6E6E6E" stroke="#111" stroke-width="1.2" stroke-linejoin="round"/>
<path d="M233.0,464.0 L282.0,483.0 L282.0,488.5 L233.0,469.5 Z" fill="#6E6E6E" stroke="#111" stroke-width="1.2" stroke-linejoin="round"/>
<path d="M233.0,471.0 L282.0,490.0 L282.0,495.5 L233.0,476.5 Z" fill="#6E6E6E" stroke="#111" stroke-width="1.2" stroke-linejoin="round"/>
<path d="M217.7,405.0 L217.7,451.0 L292.0,479.0 L373.5,452.0 L373.5,404.0 L300.0,385.0 Z" fill="#888888" stroke="#111" stroke-width="1.3" stroke-linejoin="round"/>
<path d="M218.2,413.3 L232.0,418.3 L292.0,439.3 L373.0,411.6" fill="none" stroke="#111" stroke-width="3.00" stroke-linejoin="round" stroke-linecap="round" />
<path d="M218.2,415.5 L232.0,420.5 L292.0,441.5 L373.0,413.8" fill="none" stroke="#A8A8A8" stroke-width="0.70" stroke-linejoin="round" stroke-linecap="round" />
<path d="M218.2,420.6 L232.0,425.6 L292.0,446.9 L373.0,418.9" fill="none" stroke="#111" stroke-width="3.00" stroke-linejoin="round" stroke-linecap="round" />
<path d="M218.2,422.8 L232.0,427.8 L292.0,449.1 L373.0,421.1" fill="none" stroke="#A8A8A8" stroke-width="0.70" stroke-linejoin="round" stroke-linecap="round" />
<path d="M218.2,427.9 L232.0,432.9 L292.0,454.5 L373.0,426.2" fill="none" stroke="#111" stroke-width="3.00" stroke-linejoin="round" stroke-linecap="round" />
<path d="M218.2,430.1 L232.0,435.1 L292.0,456.7 L373.0,428.4" fill="none" stroke="#A8A8A8" stroke-width="0.70" stroke-linejoin="round" stroke-linecap="round" />
<path d="M218.2,435.2 L232.0,440.2 L292.0,462.1 L373.0,433.5" fill="none" stroke="#111" stroke-width="3.00" stroke-linejoin="round" stroke-linecap="round" />
<path d="M218.2,437.4 L232.0,442.4 L292.0,464.3 L373.0,435.7" fill="none" stroke="#A8A8A8" stroke-width="0.70" stroke-linejoin="round" stroke-linecap="round" />
<path d="M218.2,442.5 L232.0,447.5 L292.0,469.7 L373.0,440.8" fill="none" stroke="#111" stroke-width="3.00" stroke-linejoin="round" stroke-linecap="round" />
<path d="M218.2,444.7 L232.0,449.7 L292.0,471.9 L373.0,443.0" fill="none" stroke="#A8A8A8" stroke-width="0.70" stroke-linejoin="round" stroke-linecap="round" />
<path d="M218.2,449.8 L232.0,454.8 L292.0,477.3 L373.0,448.1" fill="none" stroke="#111" stroke-width="3.00" stroke-linejoin="round" stroke-linecap="round" />
<path d="M218.2,452.0 L232.0,457.0 L292.0,479.5 L373.0,450.3" fill="none" stroke="#A8A8A8" stroke-width="0.70" stroke-linejoin="round" stroke-linecap="round" />
<path d="M217.7,409 C218,403 222,400.5 230,399 L300,380 C330,384 360,394 370,400 C374,402.5 374,405 372,407.5 L332,424.9 L294,431.7 L282,431.7 L232,416 C225,414 218,413 217.7,409 Z" fill="#888888" stroke="#111" stroke-width="2.20" stroke-linejoin="round" stroke-linecap="round" />
<path d="M332.0,424.9 L340.0,418.0 L352.0,410.0" fill="none" stroke="#111" stroke-width="1.00" stroke-linejoin="round" stroke-linecap="round" />
<path d="M241.0,407.0 L250.0,401.0 L264.0,404.0 L290.0,405.0 L310.0,404.0 L320.0,401.0 L338.0,402.0 L339.5,408.0 L320.0,413.0 L300.0,413.0 L280.0,414.0 L258.0,415.5 L242.0,412.5 Z" fill="#888888" stroke="#111" stroke-width="1.8" stroke-linejoin="round"/>
<path d="M252.0,397.0 L262.0,390.0 L274.0,395.0 L300.0,396.0 L318.0,393.0 L336.0,387.0 L350.0,387.0 L352.5,393.0 L342.0,399.0 L320.0,402.0 L310.0,404.0 L290.0,405.0 L264.0,404.0 L252.0,400.5 Z" fill="#888888" stroke="#111" stroke-width="1.8" stroke-linejoin="round"/>
<path d="M263.0,390.0 L270.0,383.0 L284.0,376.0 L316.0,370.0 L336.0,374.0 L338.5,380.0 L334.0,387.0 L316.0,392.0 L300.0,395.0 L274.0,395.0 Z" fill="#888888" stroke="#111" stroke-width="1.8" stroke-linejoin="round"/>
<path d="M273.0,384.0 L323.0,373.0" fill="none" stroke="#111" stroke-width="6.50" stroke-linejoin="round" stroke-linecap="round" />
<path d="M273.0,384.0 L323.0,373.0" fill="none" stroke="#8A8A8A" stroke-width="3.20" stroke-linejoin="round" stroke-linecap="round" />
<path d="M271.0,385.0 L278.0,382.0" fill="none" stroke="#EEE" stroke-width="1.40" stroke-linejoin="round" stroke-linecap="round" />
<path d="M322.0,390.0 L338.0,402.0" fill="none" stroke="#111" stroke-width="1.00" stroke-linejoin="round" stroke-linecap="round" />
<path d="M318.0,377.0 L334.0,387.0" fill="none" stroke="#111" stroke-width="1.00" stroke-linejoin="round" stroke-linecap="round" />
<path d="M256.0,416.8 L262.0,416.8" fill="none" stroke="#F0F0F0" stroke-width="1.00" stroke-linejoin="round" stroke-linecap="round" />
<path d="M266.0,415.3 L272.0,415.3" fill="none" stroke="#F0F0F0" stroke-width="1.00" stroke-linejoin="round" stroke-linecap="round" />
<path d="M300.0,405.5 L306.0,405.5" fill="none" stroke="#F0F0F0" stroke-width="1.00" stroke-linejoin="round" stroke-linecap="round" />
<path d="M263.0,405.0 L269.0,405.0" fill="none" stroke="#F0F0F0" stroke-width="1.00" stroke-linejoin="round" stroke-linecap="round" />
<path d="M300.0,396.4 L306.0,396.4" fill="none" stroke="#F0F0F0" stroke-width="1.00" stroke-linejoin="round" stroke-linecap="round" />
<path d="M278.0,396.0 L284.0,396.0" fill="none" stroke="#F0F0F0" stroke-width="1.00" stroke-linejoin="round" stroke-linecap="round" />
<path d="M309.6,485.1 L312.0,480.2 L327.8,468.1 L350.9,463.2 L363.0,466.9 L368.5,471.1 L367.9,476.6 L355.7,486.3 L347.2,493.6 L331.4,498.4 L322.9,499.6 L313.2,496.0 L309.6,491.1 Z" fill="#BDBDBD" stroke="#111" stroke-width="1.4" stroke-linejoin="round"/>
<path d="M325.4,479.0 L336.3,471.7 L350.9,469.3 L353.3,475.4 L347.2,486.3 L335.1,489.9 L326.6,492.4 L325.4,485.1 Z" fill="#C8C8C8" stroke="#111" stroke-width="1.4" stroke-linejoin="round"/>
<path d="M326.0,482.0 L349.0,488.0" fill="none" stroke="#111" stroke-width="1.20" stroke-linejoin="round" stroke-linecap="round" />
<path d="M336.3,471.7 L352.0,478.0" fill="none" stroke="#111" stroke-width="1.00" stroke-linejoin="round" stroke-linecap="round" />
<ellipse cx="316.3" cy="488.1" rx="2.8" ry="3.2" fill="#DDD" stroke="#111" stroke-width="1.1"/>
<ellipse cx="361.2" cy="474.1" rx="2.6" ry="3" fill="#DDD" stroke="#111" stroke-width="1.1"/>
<path d="M228.0,551.0 L258.0,543.0 L294.0,532.6 L306.0,538.6 L329.0,544.0 L340.0,552.0 L349.6,557.0 L348.0,560.0 L284.0,579.0 L278.0,578.0 L268.0,572.0 L240.0,560.0 L228.0,556.0 Z M249.5,556 C249.5,550 254,545.5 261,543.5 C271,540.5 288,539.8 302,540.3 C316,541 327,543.5 331.5,547.5 C333.5,550 332,553 327.5,555.5 C323.5,558 322,563 319,566.5 C313,570.5 300,572 288,572 C275,571.5 263,568.5 256.5,564.5 C252,561.5 249.5,559 249.5,556 Z" fill="#767676" fill-rule="evenodd" stroke="#111" stroke-width="1.2" stroke-linejoin="round"/>
<ellipse cx="237" cy="555" rx="3" ry="1.8" fill="#EEE" stroke="#111" stroke-width="0.9"/>
<ellipse cx="294" cy="537" rx="3" ry="1.8" fill="#EEE" stroke="#111" stroke-width="0.9"/>
<ellipse cx="339" cy="556.6" rx="3" ry="1.8" fill="#EEE" stroke="#111" stroke-width="0.9"/>
<ellipse cx="282" cy="573.4" rx="3" ry="1.8" fill="#EEE" stroke="#111" stroke-width="0.9"/>
<rect x="213.2" y="581.9" width="225.6" height="141.4" rx="11.5" fill="#F8B4B9" stroke="#EE0A14" stroke-width="2.4"/>
<path d="M273.5,586.7 A27.6,10.6 0 1 1 267.8,588.8000000000001" fill="none" stroke="#111" stroke-width="2.9"/>
<path d="M274.5,586.6 A27.6,10.6 0 1 1 268.8,588.5" fill="none" stroke="#D8D8D8" stroke-width="0.8" stroke-dasharray="1.5 4.5"/>
<path d="M279,607.5 L296,607.5" stroke="#999" stroke-width="1.3"/>
<path d="M273.5,615.3000000000001 A27.6,10.6 0 1 1 267.8,617.4000000000001" fill="none" stroke="#111" stroke-width="2.9"/>
<path d="M274.5,615.2 A27.6,10.6 0 1 1 268.8,617.1" fill="none" stroke="#D8D8D8" stroke-width="0.8" stroke-dasharray="1.5 4.5"/>
<path d="M279,636.1 L296,636.1" stroke="#999" stroke-width="1.3"/>
<path d="M255.7,654 L255.7,705 L262,706 L262,700.3 C268,702 276,705 279.4,708.4 L280,717.1 C292,716 305,713 313.6,709.6 L313.6,654 Z" fill="#808080" stroke="#111" stroke-width="1.3"/>
<path d="M255.7,656 L313.6,656 L313.6,672 Q284.6,686 255.7,672 Z" fill="#707070"/>
<path d="M255.7,659.5 Q284.6,673.5 313.6,659.5" fill="none" stroke="#111" stroke-width="1.8"/>
<path d="M256.5,661.4 Q284.6,675.4 312.8,661.4" fill="none" stroke="#E8E8E8" stroke-width="0.9" stroke-dasharray="4 2"/>
<path d="M255.7,664.5 Q284.6,678.5 313.6,664.5" fill="none" stroke="#111" stroke-width="1.8"/>
<path d="M256.5,666.4 Q284.6,680.4 312.8,666.4" fill="none" stroke="#E8E8E8" stroke-width="0.9" stroke-dasharray="4 2"/>
<path d="M255.7,669.5 Q284.6,683.5 313.6,669.5" fill="none" stroke="#111" stroke-width="1.8"/>
<path d="M256.5,671.4 Q284.6,685.4 312.8,671.4" fill="none" stroke="#E8E8E8" stroke-width="0.9" stroke-dasharray="4 2"/>
<path d="M255.7,673.5 Q284.6,687.5 313.6,673.5" fill="none" stroke="#111" stroke-width="1.4"/>
<ellipse cx="284.6" cy="653.9" rx="28.6" ry="9.9" fill="#C8C8C8" stroke="#111" stroke-width="1.4"/>
<ellipse cx="263.7" cy="686.6" rx="4.5" ry="7" fill="#BBB" stroke="#111" stroke-width="1.2"/>
<path d="M255.7,696 L262,694 L263,706 L255.7,706 Z" fill="#CCC" stroke="#111" stroke-width="0.9"/>
<g transform="translate(352,655.7) rotate(-17)">
<rect x="0" y="-5.4" width="32" height="10.8" fill="#7E7E7E" stroke="#111" stroke-width="1.2"/>
<ellipse cx="0" cy="0" rx="3" ry="5.4" fill="#DDD" stroke="#111" stroke-width="1.2"/>
<ellipse cx="0" cy="0" rx="1.3" ry="2.4" fill="#888"/>
</g>
<g transform="translate(331,661.5) rotate(-15)">
<rect x="-9" y="-9.5" width="18" height="19" rx="3" fill="#8C8C8C" stroke="#111" stroke-width="1.4"/>
<ellipse cx="-8" cy="0" rx="3.8" ry="9.5" fill="#6A6A6A" stroke="#111" stroke-width="1.3"/>
<ellipse cx="-8" cy="0" rx="1.8" ry="6" fill="#B8B8B8" stroke="#111" stroke-width="0.8"/>
<rect x="-3" y="-8" width="3" height="16" fill="#BBB" stroke="#111" stroke-width="0.8"/>
<rect x="3" y="-2" width="5" height="7" fill="#AAA" stroke="#111" stroke-width="0.8"/>
</g>
<path d="M397,636.5 Q404,638 403,643 Q401,648.5 395,647.5" fill="none" stroke="#111" stroke-width="1.6"/>
<path d="M395,636 L393,638" stroke="#111" stroke-width="1.6"/><path d="M395,647.5 L393.5,645.5" stroke="#111" stroke-width="1.6"/>
<path d="M234.8,688.2 C234.2,684.5 237.5,683.8 239.8,684.6 C242.8,685.8 243.4,691.5 242.6,694.8 C241.5,698.6 236.5,699.2 234.2,693" fill="none" stroke="#111" stroke-width="2.3"/>
<path d="M241.9,690 L242,695" stroke="#9AA" stroke-width="0.8"/>
<path d="M319.0,13.8 L374.6,13.8" fill="none" stroke="#333" stroke-width="1.1" stroke-linecap="round"/>
<path d="M460.4,87.7 L410.7,102.9" fill="none" stroke="#333" stroke-width="1.1" stroke-linecap="round"/>
<path d="M491.2,188.4 L477.8,226.5" fill="none" stroke="#333" stroke-width="1.1" stroke-linecap="round"/>
<path d="M603.2,265.4 L595.0,315.1" fill="none" stroke="#333" stroke-width="1.1" stroke-linecap="round"/>
<path d="M425.4,400.0 L374.3,407.4" fill="none" stroke="#333" stroke-width="1.1" stroke-linecap="round"/>
<path d="M192.6,283.4 L164.4,304.6" fill="none" stroke="#333" stroke-width="1.1" stroke-linecap="round"/>
<path d="M242.4,319.3 L228.4,344.5" fill="none" stroke="#333" stroke-width="1.1" stroke-linecap="round"/>
<path d="M373.7,526.4 L329.4,542.6" fill="none" stroke="#333" stroke-width="1.1" stroke-linecap="round"/>
<path d="M491.0,556.1 L435.0,582.9" fill="none" stroke="#333" stroke-width="1.1" stroke-linecap="round"/>
<path d="M355.2,602.8 L317.9,596.8" fill="none" stroke="#333" stroke-width="1.1" stroke-linecap="round"/>
<path d="M356.5,606.2 L316.0,625.4" fill="none" stroke="#333" stroke-width="1.1" stroke-linecap="round"/>
<path d="M377.0,690.7 L338.6,669.3" fill="none" stroke="#333" stroke-width="1.1" stroke-linecap="round"/>
<ellipse cx="397.5" cy="363.4" rx="1.1" ry="0.8" fill="#222"/>
<circle cx="192.6" cy="408.7" r="0.8" fill="#555"/>
<text x="458.75" y="94.00">2</text>
<text x="482.05" y="188.15">3</text>
<text x="594.90" y="265.20">4</text>
<text x="424.93" y="406.10">5</text>
<text x="191.18" y="292.35">6</text>
<text x="241.93" y="326.80">7</text>
<text x="372.84" y="535.90">8</text>
<text x="489.65" y="565.10">9</text>
<path d="M380.10,22.00 L384.10,22.00 L384.10,5.20 L381.00,5.20 Q379.70,8.60 376.10,9.80 L376.10,13.30 Q378.40,12.50 380.10,10.80 Z" fill="#000"/>
<path d="M361.30,613.50 L365.30,613.50 L365.30,596.70 L362.20,596.70 Q360.90,600.10 357.30,601.30 L357.30,604.80 Q359.60,604.00 361.30,602.30 Z" fill="#000"/>
<text x="368.12" y="613.62">0</text>
<path d="M382.10,697.00 L386.10,697.00 L386.10,680.20 L383.00,680.20 Q381.70,683.60 378.10,684.80 L378.10,688.30 Q380.40,687.50 382.10,685.80 Z" fill="#000"/>
<path d="M394.10,697.00 L398.10,697.00 L398.10,680.20 L395.00,680.20 Q393.70,683.60 390.10,684.80 L390.10,688.30 Q392.40,687.50 394.10,685.80 Z" fill="#000"/>
</svg>
</body></html>
